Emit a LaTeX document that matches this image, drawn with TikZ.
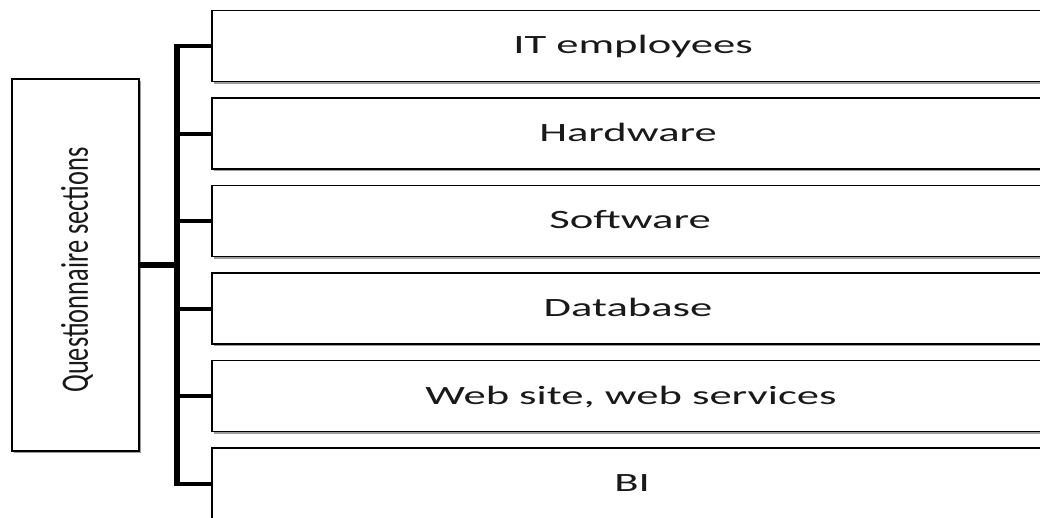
\documentclass[tikz,border=0pt]{standalone}
\usepackage{fontspec}
\setmainfont{Carlito}
\usetikzlibrary{shadows}
\begin{document}
\begin{tikzpicture}[x=1pt,y=-1pt,
  section/.style={draw=black, line width=1.8pt, fill=white,
    minimum width=836pt, minimum height=71pt, inner sep=0pt,
    drop shadow={shadow xshift=1.5pt, shadow yshift=-2pt, opacity=0.55, fill=black!70}},
  rootbox/.style={draw=black, line width=1.8pt, fill=white,
    minimum width=127pt, minimum height=372pt, inner sep=0pt,
    drop shadow={shadow xshift=1.5pt, shadow yshift=-2pt, opacity=0.55, fill=black!70}},
  sectext/.style={font=\fontsize{26.4}{30}\selectfont, text=black!90, inner sep=0pt, anchor=base},
  bus/.style={line width=6.5pt, shorten <=-2pt, shorten >=-2pt},
  branch/.style={line width=4pt},
  trunk/.style={line width=5.5pt}]
\useasboundingbox (0,0) rectangle (1040,517);
\clip (0,0) rectangle (1040,517);

% left box with the vertical title
\node[rootbox] (qs) at (75.5,265) {};
\node[sectext, anchor=center, rotate=90] (qslabel) at (77,270)
  {\scalebox{1}[1.47]{Questionnaire sections}};

% section boxes, running off the right edge
\node[section] (b1) at (630,46.0) {};
\node[section] (b2) at (630,133.5) {};
\node[section] (b3) at (630,221.0) {};
\node[section] (b4) at (630,308.5) {};
\node[section] (b5) at (630,396.0) {};
\node[section] (b6) at (630,483.5) {};

\node[sectext] (t1) at (633,53.5) {\scalebox{1.69}[1]{IT employees}};
\node[sectext] (t2) at (628,141) {\scalebox{1.69}[1]{Hardware}};
\node[sectext] (t3) at (630,228.5) {\scalebox{1.69}[1]{Software}};
\node[sectext] (t4) at (628,316) {\scalebox{1.69}[1]{Database}};
\node[sectext] (t5) at (631,404) {\scalebox{1.69}[1]{Web site, web services}};
\node[sectext] (t6) at (632,491) {\scalebox{1.69}[1]{BI}};

% tree connectors
\coordinate (busx) at (177,0);
\draw[bus] (busx |- b1.west) -- (busx |- b6.west);
\foreach \b in {b1,b2,b3,b4,b5,b6}
  \draw[branch] (busx |- \b.west) -- (\b.west);
\draw[trunk] (qs.east) -- (busx |- qs.east);
\end{tikzpicture}
\end{document}
